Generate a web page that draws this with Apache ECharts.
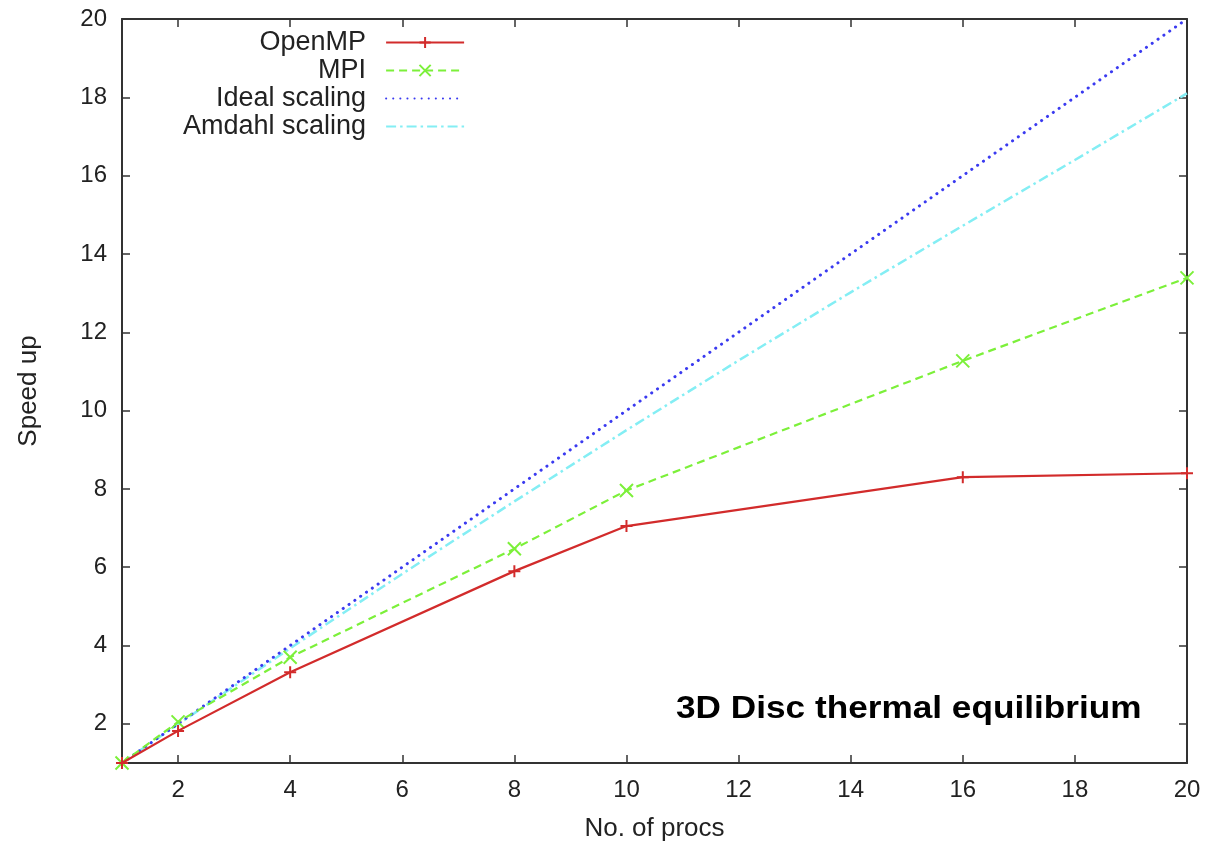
<!DOCTYPE html>
<html>
<head>
<meta charset="utf-8">
<script src="https://cdn.jsdelivr.net/npm/echarts@6/dist/echarts.min.js"></script>
<style>
  html, body { margin: 0; padding: 0; background: #fff; }
  #chart { width: 1212px; height: 848px; }
</style>
</head>
<body>
<div id="chart"></div>
<script>
// data
const procs = [1, 2, 4, 8, 10, 16, 20];
const openmpSpeedup = [1, 1.82, 3.32, 5.9, 7.05, 8.3, 8.4];
const mpiSpeedup = [1, 2.05, 3.7, 6.47, 7.96, 11.27, 13.39];
const idealProcs = [1, 20];
const idealSpeedup = [1, 20];
const amdahlProcs = [1, 2, 4, 6, 8, 10, 12, 14, 16, 18, 20];
const amdahlSpeedup = [1, 1.99, 3.93, 5.83, 7.68, 9.5, 11.28, 13.02, 14.72, 16.4, 18.1];
const xTicks = [2, 4, 6, 8, 10, 12, 14, 16, 18, 20];
const yTicks = [2, 4, 6, 8, 10, 12, 14, 16, 18, 20];

const pairs = (xs, ys) => xs.map((x, i) => [x, ys[i]]);

const tickFont = { color: '#222', fontSize: 24, fontFamily: 'Liberation Sans' };
const nameFont = { color: '#222', fontSize: 26, fontFamily: 'Liberation Sans' };
const axisLine = { show: true, onZero: false, lineStyle: { color: '#333', width: 2 } };
const tickStyle = { color: '#333', width: 1.5 };

const myChart = echarts.init(document.getElementById('chart'));
myChart.setOption({
  animation: false,
  grid: { left: 122, right: 25, top: 19, bottom: 85 },
  legend: {
    orient: 'vertical',
    align: 'right',
    left: 183,
    top: 29,
    padding: 0,
    itemWidth: 78,
    itemHeight: 14,
    itemGap: 1,
    textStyle: { color: '#222', fontSize: 27, lineHeight: 27, fontFamily: 'Liberation Sans', padding: [0, 15, 0, 0] },
    data: [
      'OpenMP',
      'MPI',
      { name: 'Ideal scaling', itemStyle: { opacity: 0 } },
      { name: 'Amdahl scaling', itemStyle: { opacity: 0 } }
    ]
  },
  xAxis: [{
    type: 'value',
    min: 1,
    max: 20,
    name: 'No. of procs',
    nameLocation: 'middle',
    nameGap: 53,
    nameTextStyle: nameFont,
    axisLine: axisLine,
    axisTick: { show: true, inside: true, length: 8, customValues: xTicks, lineStyle: tickStyle },
    axisLabel: Object.assign({ margin: 15, customValues: xTicks }, tickFont),
    splitLine: { show: false }
  }, {
    type: 'value',
    position: 'top',
    min: 1,
    max: 20,
    axisLine: axisLine,
    axisTick: { show: true, inside: true, length: 8, customValues: xTicks, lineStyle: tickStyle },
    axisLabel: { show: false },
    splitLine: { show: false }
  }],
  yAxis: [{
    type: 'value',
    min: 1,
    max: 20,
    name: 'Speed up',
    nameLocation: 'middle',
    nameGap: 80,
    nameTextStyle: nameFont,
    axisLine: axisLine,
    axisTick: { show: true, inside: true, length: 8, customValues: yTicks, lineStyle: tickStyle },
    axisLabel: Object.assign({ margin: 15, customValues: yTicks }, tickFont),
    splitLine: { show: false }
  }, {
    type: 'value',
    position: 'right',
    min: 1,
    max: 20,
    axisLine: axisLine,
    axisTick: { show: true, inside: true, length: 8, customValues: yTicks, lineStyle: tickStyle },
    axisLabel: { show: false },
    splitLine: { show: false }
  }],
  series: [{
    name: 'OpenMP',
    type: 'line',
    data: pairs(procs, openmpSpeedup),
    symbol: 'path://M0,5L10,5M5,0L5,10',
    symbolSize: 12,
    lineStyle: { color: '#d22b2b', width: 2.2 },
    itemStyle: { color: 'rgba(0,0,0,0)', borderColor: '#d22b2b', borderWidth: 2 },
    z: 5
  }, {
    name: 'MPI',
    type: 'line',
    data: pairs(procs, mpiSpeedup),
    symbol: 'path://M0,0L10,10M10,0L0,10',
    symbolSize: 13,
    lineStyle: { color: '#7cf03a', width: 2.2, type: [8, 5] },
    itemStyle: { color: 'rgba(0,0,0,0)', borderColor: '#7cf03a', borderWidth: 2 },
    z: 4
  }, {
    name: 'Ideal scaling',
    type: 'line',
    data: pairs(idealProcs, idealSpeedup),
    symbol: 'none',
    lineStyle: { color: '#3a3af0', width: 3, type: [0.1, 7], cap: 'round' },
    itemStyle: { color: '#3a3af0' },
    z: 3
  }, {
    name: 'Amdahl scaling',
    type: 'line',
    data: pairs(amdahlProcs, amdahlSpeedup),
    symbol: 'none',
    lineStyle: { color: '#84eef4', width: 2.5, type: [10, 4, 2.5, 4] },
    itemStyle: { color: '#84eef4' },
    z: 2
  }],
  graphic: [{
    type: 'text',
    left: 676,
    top: 693,
    scaleX: 1.1,
    style: {
      text: '3D Disc thermal equilibrium',
      fill: '#000',
      font: 'bold 32px "Liberation Sans"'
    }
  }]
});
</script>
</body>
</html>
